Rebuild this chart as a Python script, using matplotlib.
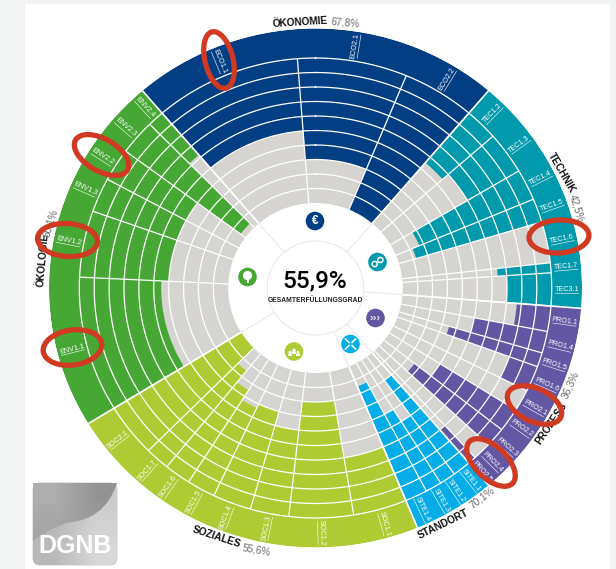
import numpy as np
import matplotlib
matplotlib.use('Agg')
import matplotlib.pyplot as plt
from matplotlib.patches import Circle, Ellipse, FancyBboxPatch, PathPatch, Rectangle
from matplotlib.path import Path

plt.rcParams['font.family'] = ['Liberation Sans', 'DejaVu Sans']

# angular share of every criterion (degrees), and how many percent of the ten rings are filled
ECO_NAMES = ['ECO1.1', 'ECO2.1', 'ECO2.2']
ECO_WEIGHT = [36.1, 27.0, 17.9]
ECO_SCORE = [50, 70, 100]
TEC_NAMES = ['TEC1.2', 'TEC1.3', 'TEC1.4', 'TEC1.5', 'TEC1.6', 'TEC1.7', 'TEC3.1']
TEC_WEIGHT = [8.2, 10.7, 7.9, 6.0, 10.4, 2.5, 8.3]
TEC_SCORE = [45, 40, 83, 88, 0, 36, 30]
PRO_NAMES = ['PRO1.1', 'PRO1.4', 'PRO1.5', 'PRO1.6', 'PRO2.1', 'PRO2.2', 'PRO2.3', 'PRO2.4', 'PRO2.5']
PRO_WEIGHT = [6.4, 5.5, 3.6, 6.5, 5.5, 6.0, 5.0, 4.5, 2.0]
PRO_SCORE = [23, 50, 65, 20, 0, 60, 74, 0, 30]
SITE_NAMES = ['SITE1.1', 'SITE1.2', 'SITE1.3', 'SITE1.4']
SITE_WEIGHT = [4.5, 4.0, 4.0, 5.5]
SITE_SCORE = [80, 50, 60, 85]
SOC_NAMES = ['SOC1.1', 'SOC1.2', 'SOC1.3', 'SOC1.4', 'SOC1.5', 'SOC1.6', 'SOC1.7', 'SOC2.1']
SOC_WEIGHT = [13.2, 15.8, 9.5, 9.5, 7.0, 6.5, 6.0, 13.5]
SOC_SCORE = [40, 80, 60, 70, 67, 75, 85, 100]
ENV_NAMES = ['ENV1.1', 'ENV1.2', 'ENV1.3', 'ENV2.2', 'ENV2.3', 'ENV2.4']
ENV_WEIGHT = [34.2, 16.8, 8.7, 8.3, 8.9, 4.1]
ENV_SCORE = [55, 60, 60, 60, 96, 38]

TOTAL = '55,9%'
GROUPS = [
    (ECO_NAMES, ECO_WEIGHT, ECO_SCORE, '#023e84'),
    (TEC_NAMES, TEC_WEIGHT, TEC_SCORE, '#009aac'),
    (PRO_NAMES, PRO_WEIGHT, PRO_SCORE, '#6357a4'),
    (SITE_NAMES, SITE_WEIGHT, SITE_SCORE, '#04ade8'),
    (SOC_NAMES, SOC_WEIGHT, SOC_SCORE, '#afcb33'),
    (ENV_NAMES, ENV_WEIGHT, ENV_SCORE, '#46a735'),
]

R_IN, R_GRID, R_OUT = 85.0, 230.0, 259.5
START = -40.5
GRAY = '#d5d4d0'

fig = plt.figure(figsize=(6.16, 5.69), dpi=100, facecolor='#f2f4f3')
fig.add_artist(Rectangle((25 / 616, 0), 585 / 616, 565 / 569, transform=fig.transFigure,
                         facecolor='white', edgecolor='none', zorder=-5))

# the wheel is slightly wider than high in the source picture
ax = fig.add_axes([49 / 616, 21.5 / 569, 533 / 616, 519 / 569], projection='polar')
ax.set_aspect('auto')
ax.set_theta_zero_location('N')
ax.set_theta_direction(-1)
ax.axis('off')
ax.set_rlim(0, R_OUT)

ov = fig.add_axes([0, 0, 1, 1], facecolor='none')
ov.set_xlim(0, 616)
ov.set_ylim(569, 0)
ov.axis('off')

ax.bar(0, R_GRID - R_IN, width=2 * np.pi, bottom=R_IN, color=GRAY, linewidth=0)

angle = START
edges = []
group_edges = []
for names, weights, scores, colour in GROUPS:
    group_start = angle
    group_edges.append(angle)
    for name, w, score in zip(names, weights, scores):
        r_fill = R_GRID - (R_GRID - R_IN) * score / 100
        ax.bar(np.radians(angle + w / 2), R_GRID - r_fill, width=np.radians(w), bottom=r_fill,
               color=colour, linewidth=0, align='center')
        a = (angle + w / 2) % 360
        rot = 270 - a if a >= 180 else 90 - a
        ax.text(np.radians(a), 245, name, color='white', fontsize=5.2, rotation=rot,
                rotation_mode='anchor', ha='center', va='center', zorder=6)
        # underline of the code, drawn below the text
        px, py = ax.transData.transform((np.radians(a), 245))
        py = 569 - py
        half = len(name) * 1.95
        ux, uy = np.cos(np.radians(rot)), -np.sin(np.radians(rot))
        nx, ny = np.sin(np.radians(rot)), np.cos(np.radians(rot))
        ov.plot([px - half * ux + 3.8 * nx, px + half * ux + 3.8 * nx],
                [py - half * uy + 3.8 * ny, py + half * uy + 3.8 * ny],
                color='white', lw=0.45, alpha=0.9, zorder=1)
        angle += w
        edges.append(angle)
    ax.bar(np.radians((group_start + angle) / 2), R_OUT - R_GRID, width=np.radians(angle - group_start),
           bottom=R_GRID, color=colour, linewidth=0)

th = np.linspace(0, 2 * np.pi, 721)
for r in np.linspace(R_IN, R_GRID, 11)[1:]:
    ax.plot(th, np.full_like(th, r), color='white', lw=0.9, zorder=4)
ax.vlines(np.radians(edges), R_IN, R_GRID, color='white', lw=0.9, zorder=4)
ax.vlines(np.radians(group_edges), R_IN, R_OUT, color='white', lw=1.2, zorder=5)
ax.plot(th, np.full_like(th, 47.0), color='#e9e9e9', lw=0.8, zorder=4)
ax.vlines(np.radians(group_edges), 47, R_IN, color='#e9e9e9', lw=0.8, zorder=4)

ov.text(315, 281, TOTAL, fontsize=17.5, ha='center', va='center', family='Roboto', weight='medium', color='black')
ov.text(315.5, 300, 'GESAMTERFÜLLUNGSGRAD', fontsize=4.9, ha='center', va='center', weight='bold', color='#222222')

# group captions, word by word along the rim
BOLD = [('ÖKONOMIE', 300, 22, 3.5), ('TECHNIK', 561.5, 173, -60), ('PROZESS', 551.5, 423, 56),
        ('STANDORT', 443, 524, 26), ('SOZIALES', 216.5, 537, -18), ('ÖKOLOGIE', 42.5, 260, 85)]
SHARE = [('67,8%', 345, 22.5, -5), ('42,5%', 576.5, 208, -72), ('36,3%', 570, 385, 66),
         ('70,1%', 482.5, 498, 38), ('55,6%', 257, 550, -10), ('60,1%', 50.5, 223, 73)]
for s, x, y, rot in BOLD:
    ov.text(x, y, s, fontsize=7.3, weight='bold', color='#111111', rotation=rot, rotation_mode='anchor',
            ha='center', va='center', zorder=3)
for s, x, y, rot in SHARE:
    ov.text(x, y, s, fontsize=7.3, color='#6a6a6a', rotation=rot, rotation_mode='anchor',
            ha='center', va='center', zorder=3)

# icons
ICONS = [(315, 221, '#023e84'), (377.5, 262, '#009aac'), (375.5, 318, '#6357a4'),
         (350.5, 344, '#04ade8'), (294, 351.5, '#afcb33'), (247.5, 277, '#46a735')]
for x, y, c in ICONS:
    ov.add_patch(Circle((x, y), 9.3, facecolor=c, edgecolor='none', zorder=3))
ov.text(315, 221, '€', color='white', fontsize=8.5, weight='bold', ha='center', va='center', zorder=4)
for dx, dy, r in [(-2.8, 2, 2.6), (2.8, -2, 2.6)]:
    ov.add_patch(Circle((377.5 + dx, 262 + dy), r, facecolor='none', edgecolor='white', lw=1.1, zorder=4))
ov.text(375.5, 318, '›››', color='#e4e2f0', fontsize=8, weight='bold', ha='center', va='center', zorder=4)
for sx, sy in [(-1, -1), (1, -1), (-1, 1), (1, 1)]:
    ov.plot([350.5 + sx * 1.5, 350.5 + sx * 5], [344 + sy * 1.5, 344 + sy * 5], color='white', lw=1.2, zorder=4)
for dx, dy, r in [(-4, 1, 1.6), (0, -1, 1.9), (4, 1, 1.6)]:
    ov.add_patch(Circle((294 + dx, 351.5 + dy), r, facecolor='white', edgecolor='none', zorder=4))
    ov.add_patch(Rectangle((294 + dx - r, 351.5 + dy + r * 0.7), 2 * r, 2.6, facecolor='white', edgecolor='none', zorder=4))
ov.add_patch(Circle((247.5, 275.5), 4.6, facecolor='white', edgecolor='none', zorder=4))
ov.add_patch(Rectangle((246.5, 278), 2, 4.5, facecolor='white', edgecolor='none', zorder=4))

# logo
box = FancyBboxPatch((33, 483), 84, 82, boxstyle='round,pad=0,rounding_size=7', facecolor='#c6c7c8',
                     edgecolor='#b5b5b5', lw=0.5, zorder=2)
ov.add_patch(box)
low = ov.imshow(np.array([[0.72, 0.80], [0.72, 0.84]]), extent=(33, 117, 565, 483), cmap='gray', vmin=0, vmax=1,
                aspect='auto', interpolation='bilinear', zorder=2.1)
low.set_clip_path(box)
wave = Path([(33, 541), (48, 530), (60, 524), (72, 522), (90, 520), (108, 510), (117, 483),
             (33, 483), (33, 541)],
            [Path.MOVETO, Path.CURVE4, Path.CURVE4, Path.CURVE4, Path.CURVE4, Path.CURVE4, Path.CURVE4,
             Path.LINETO, Path.CLOSEPOLY])
top = ov.imshow(np.array([[0.68, 0.58], [0.65, 0.60]]), extent=(33, 117, 541, 483), cmap='gray', vmin=0, vmax=1,
                aspect='auto', interpolation='bilinear', zorder=2.2)
wave_patch = PathPatch(wave, facecolor='none', edgecolor='none', transform=ov.transData)
ov.add_patch(wave_patch)
top.set_clip_path(wave_patch)
ov.text(75, 546, 'DGNB', color='white', fontsize=18, weight='bold', ha='center', va='center', zorder=3)
ov.set_xlim(0, 616)
ov.set_ylim(569, 0)

# red hand-drawn marks
MARKS = [(219, 60, 58, 28, 76), (101.5, 155, 60, 32, 30), (67.5, 240, 60, 33, 4), (72.5, 347.5, 59, 35, -8),
         (559, 236.5, 60, 33, -3), (534.5, 405, 58, 33, 25), (491, 462.5, 60, 32, 44)]
for x, y, w, h, t in MARKS:
    ov.add_patch(Ellipse((x, y), w, h, angle=t, facecolor='none', edgecolor='#d03a22', lw=3.8, zorder=8))

fig.savefig('out.png', dpi=100)
